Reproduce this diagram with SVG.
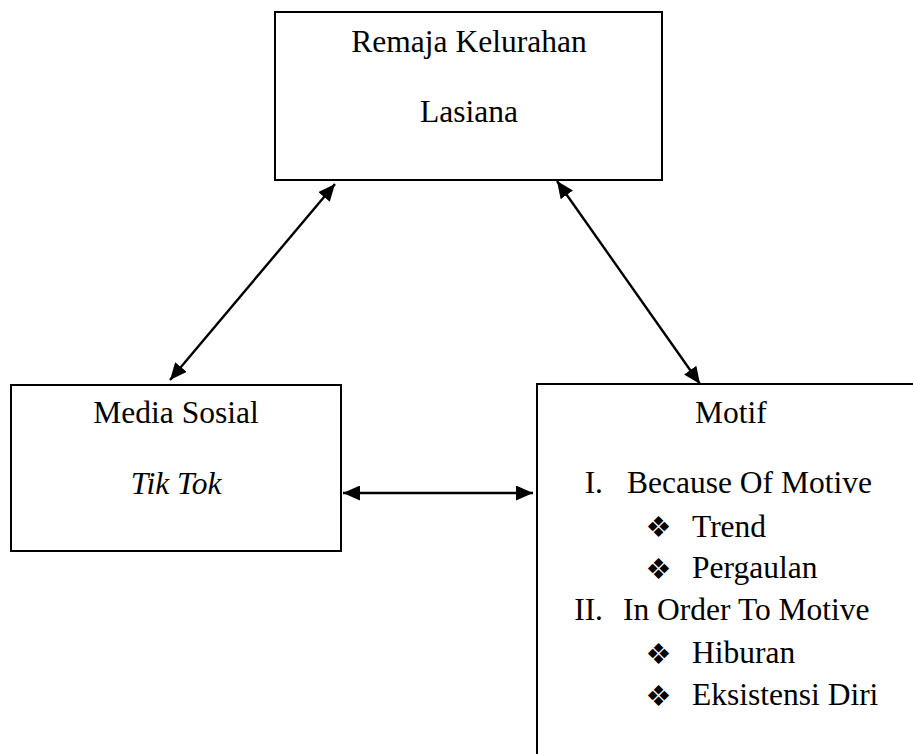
<svg xmlns="http://www.w3.org/2000/svg" width="913" height="754" viewBox="0 0 913 754">
<defs>
<style>
.box{fill:#fff;stroke:#000;stroke-width:2}
.t{font-family:"Liberation Serif","Times New Roman",serif;font-size:31.5px;fill:#000}
.c{text-anchor:middle}
.b{font-family:"DejaVu Sans",sans-serif;font-size:29px;fill:#000;text-anchor:middle}
.con{stroke:#000;stroke-width:2.4;fill:none;marker-start:url(#ah);marker-end:url(#ah)}
</style>
<marker id="ah" markerUnits="userSpaceOnUse" markerWidth="18" markerHeight="15" refX="17" refY="7.5" orient="auto-start-reverse">
<path d="M0,0 L17,7.5 L0,15 z" fill="#000"/>
</marker>
</defs>
<rect width="913" height="754" fill="#fff"/>
<g id="node-remaja">
<rect class="box" x="275" y="12" width="387" height="168"/>
<text class="t c" x="469" y="52">Remaja Kelurahan</text>
<text class="t c" x="469" y="122">Lasiana</text>
</g>
<g id="node-media">
<rect class="box" x="11" y="385" width="330" height="166"/>
<text class="t c" x="176" y="423">Media Sosial</text>
<text class="t c" x="176" y="494" font-style="italic">Tik Tok</text>
</g>
<g id="node-motif">
<path class="box" d="M913,384 H537 V754"/>
<text class="t c" x="731" y="423">Motif</text>
<text class="t" x="603" y="493" text-anchor="end">I.</text>
<text class="t" x="627" y="493">Because Of Motive</text>
<text class="b" x="658.5" y="537">❖</text>
<text class="t" x="692" y="537">Trend</text>
<text class="b" x="658.5" y="579">❖</text>
<text class="t" x="692" y="578">Pergaulan</text>
<text class="t" x="603" y="620" text-anchor="end">II.</text>
<text class="t" x="623" y="620">In Order To Motive</text>
<text class="b" x="658.5" y="664">❖</text>
<text class="t" x="692" y="663">Hiburan</text>
<text class="b" x="658.5" y="706">❖</text>
<text class="t" x="692" y="705">Eksistensi Diri</text>
</g>
<g id="connectors">
<line class="con" x1="335" y1="184" x2="170" y2="380"/>
<line class="con" x1="557" y1="181" x2="700" y2="384"/>
<line class="con" x1="343" y1="493" x2="533" y2="493"/>
</g>
</svg>
